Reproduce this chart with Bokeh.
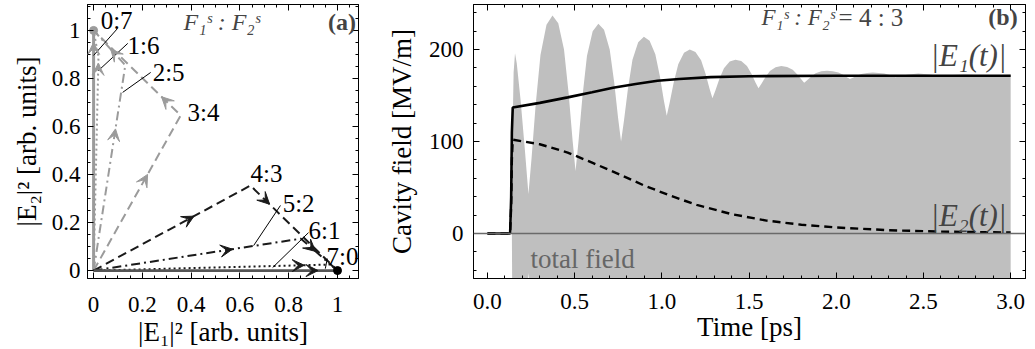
import numpy as np
from bokeh.plotting import figure
from bokeh.models import (Range1d, FixedTicker, LinearAxis, Label, Span, Arrow, VeeHead,
                          ColumnDataSource, CustomJSTickFormatter, PrintfTickFormatter)
from bokeh.layouts import row
from bokeh.embed import file_html
from bokeh.resources import INLINE

FONT = "Liberation Serif"

# ---------------- Panel (a) data ----------------
ratio_labels = ["0:7", "1:6", "2:5", "3:4", "4:3", "5:2", "6:1", "7:0"]
turn_x = [0.0, 0.02, 0.13, 0.357, 0.643, 0.85, 0.97, 1.0]
turn_y = [1.0, 0.89, 0.855, 0.646, 0.354, 0.133, 0.025, 0.0]
end_x = [0.0, 0.0, 0.0, 0.0, 1.0, 1.0, 1.0, 1.0]
end_y = [1.0, 1.0, 1.0, 1.0, 0.0, 0.0, 0.0, 0.0]

# arrowheads: (path index, leg index, fraction along leg)
arrow_path = [0, 1, 2, 2, 3, 3, 4, 4, 5, 5, 6, 7]
arrow_leg = [0, 0, 0, 1, 0, 1, 0, 1, 0, 1, 0, 0]
arrow_frac = [0.95, 0.97, 0.69, 0.46, 0.62, 0.22, 0.64, 0.22, 0.67, 0.40, 0.89, 0.92]

# ---------------- Panel (b) data ----------------
env_t = [0.140, 0.143, 0.150, 0.158, 0.168, 0.190, 0.215, 0.235,
         0.253, 0.2764, 0.304, 0.3385, 0.373,
         0.406, 0.439, 0.4654, 0.4878, 0.505,
         0.522, 0.5443, 0.5705, 0.6033, 0.636,
         0.6685, 0.701, 0.727, 0.7491, 0.766,
         0.783, 0.8053, 0.8315, 0.8643, 0.897,
         0.9298, 0.9625, 0.9887, 1.011, 1.028,
         1.045, 1.0676, 1.094, 1.127, 1.160,
         1.1925, 1.225, 1.251, 1.2731, 1.290,
         1.307, 1.3296, 1.356, 1.389, 1.422,
         1.455, 1.488, 1.5144, 1.5368, 1.554,
         1.571, 1.5933, 1.6195, 1.652, 1.685,
         1.718, 1.7505, 1.7767, 1.799, 1.816,
         1.833, 1.8553, 1.8815, 1.914, 1.947,
         1.980, 2.0125, 2.039, 2.061, 2.078,
         2.095, 2.1176, 2.144, 2.177, 2.210,
         2.275, 2.301, 2.340,
         2.405, 2.470, 2.535, 2.600, 2.668, 2.735, 2.800, 2.866, 2.930, 3.000]
env_v = [0, 100, 175, 196, 185, 145, 90, 43,
         82, 140, 194, 227, 237,
         228.5, 200, 152.5, 102, 68,
         100, 148, 193, 220, 228,
         221.6, 200, 164, 125.6, 100,
         123, 157, 189, 208, 214,
         209.7, 195, 171, 145, 128,
         142.4, 164, 184, 196.4, 200,
         197.4, 188.3, 173.5, 157.6, 147,
         155.4, 168, 179.8, 186.9, 189,
         187.5, 182.2, 173.5, 164.2, 158,
         162.8, 170, 176.7, 180.8, 182,
         181.1, 178, 173, 167.6, 164,
         166.6, 170.5, 174.1, 176.4, 177,
         176.5, 175, 172.5, 169.8, 168,
         169.4, 171.5, 173.5, 174.6, 175,
         173.9, 172.5, 170,
         172.5, 174, 173, 171, 172.3, 173, 172.2, 171.5, 172.1, 172.5]

e1_t = [0.0, 0.13, 0.136, 0.14, 0.145, 0.3, 0.46, 0.6, 0.72, 0.85, 0.975, 1.1, 1.28, 1.5, 2.0, 3.0]
e1_v = [0, 0, 40, 110, 137, 142, 148, 153.5, 158.5, 162.5, 166, 168, 170, 171, 171.5, 171.5]

e2_t = [0.0, 0.13, 0.136, 0.14, 0.145, 0.3, 0.46, 0.6, 0.76, 0.9, 1.05, 1.2, 1.4, 1.6, 1.8, 2.0, 2.3, 2.6, 3.0]
e2_v = [0, 0, 30, 80, 102, 97, 88, 77, 64, 52, 41, 31, 21, 14, 9.5, 6.5, 3.5, 2, 1]

GRAY = "#9b9b9b"
BLACK = "#1a1a1a"
TICK_SIZE = "23px"
AXLAB_SIZE = "27px"


def style_axis(ax, ticks, minor, size=TICK_SIZE):
    ax.ticker = FixedTicker(ticks=ticks, minor_ticks=minor)
    ax.major_tick_in = 6
    ax.major_tick_out = 0
    ax.minor_tick_in = 3
    ax.minor_tick_out = 0
    ax.axis_line_color = "black"
    ax.major_tick_line_color = "black"
    ax.minor_tick_line_color = "black"
    ax.major_label_text_font = FONT
    ax.major_label_text_font_size = size
    ax.major_label_text_color = "black"
    ax.axis_label_text_font = FONT
    ax.axis_label_text_font_size = AXLAB_SIZE
    ax.axis_label_text_font_style = "normal"
    ax.axis_label_text_color = "black"


def add_mirror(p, ticks_x, minor_x, ticks_y, minor_y):
    blank = CustomJSTickFormatter(code="return ''")
    ra = LinearAxis(formatter=blank)
    style_axis(ra, ticks_y, minor_y, size="0px")
    ra.major_label_standoff = 0
    p.add_layout(ra, "right")
    ta = LinearAxis(formatter=blank)
    style_axis(ta, ticks_x, minor_x, size="0px")
    ta.major_label_standoff = 0
    p.add_layout(ta, "above")


# ================= Panel (a) =================
pa = figure(width=380, height=349, output_backend="svg", toolbar_location=None,
            x_range=Range1d(-0.025, 1.086), y_range=Range1d(-0.033, 1.108),
            min_border_left=87, min_border_right=22, min_border_top=4, min_border_bottom=71)
pa.xgrid.visible = False
pa.ygrid.visible = False
pa.outline_line_color = "black"
pa.background_fill_color = "white"

a_ticks = [0, 0.2, 0.4, 0.6, 0.8, 1]
a_minor = [round(0.05 * i, 2) for i in range(-1, 23)]
fmt_a = CustomJSTickFormatter(code="return String(tick)")
style_axis(pa.xaxis[0], a_ticks, a_minor)
style_axis(pa.yaxis[0], a_ticks, a_minor)
pa.xaxis[0].formatter = fmt_a
pa.yaxis[0].formatter = fmt_a
pa.xaxis[0].axis_label = "|E\u2081|\u00b2 [arb. units]"
pa.yaxis[0].axis_label = "|E\u2082|\u00b2 [arb. units]"
pa.xaxis[0].major_label_standoff = 18
pa.xaxis[0].axis_label_standoff = 2
pa.yaxis[0].major_label_standoff = 7
pa.yaxis[0].axis_label_standoff = 7
add_mirror(pa, a_ticks, a_minor, a_ticks, a_minor)

styles = [
    dict(color=GRAY, dash="solid", width=3.0),
    dict(color=GRAY, dash="2 3", width=2.0),
    dict(color=GRAY, dash="9 4 2 4", width=2.0),
    dict(color=GRAY, dash="9 5", width=2.0),
    dict(color=BLACK, dash="9 5", width=2.0),
    dict(color=BLACK, dash="9 4 2 4", width=2.0),
    dict(color=BLACK, dash="2 3", width=2.0),
    dict(color="#555555", dash="solid", width=2.6),
]

for i in range(len(ratio_labels)):
    xs = [0.0, turn_x[i], end_x[i]]
    ys = [0.0, turn_y[i], end_y[i]]
    st = styles[i]
    pa.line(xs, ys, line_color=st["color"], line_width=st["width"], line_dash=st["dash"])

# arrowheads computed from path data
ax0 = {GRAY: [], BLACK: []}
for pi, leg, f in zip(arrow_path, arrow_leg, arrow_frac):
    if leg == 0:
        A = (0.0, 0.0)
        B = (turn_x[pi], turn_y[pi])
    else:
        A = (turn_x[pi], turn_y[pi])
        B = (end_x[pi], end_y[pi])
    dx, dy = B[0] - A[0], B[1] - A[1]
    L = (dx * dx + dy * dy) ** 0.5
    px, py = A[0] + f * dx, A[1] + f * dy
    sx, sy = px - 0.02 * dx / L, py - 0.02 * dy / L
    col = GRAY if pi < 4 else BLACK
    ax0[col].append((sx, sy, px, py))

for col, lst in ax0.items():
    src = ColumnDataSource(dict(x0=[a[0] for a in lst], y0=[a[1] for a in lst],
                                x1=[a[2] for a in lst], y1=[a[3] for a in lst]))
    pa.add_layout(Arrow(end=VeeHead(size=12, fill_color=col, line_color=col, line_width=1),
                        x_start="x0", y_start="y0", x_end="x1", y_end="y1",
                        source=src, line_alpha=0))

# end dots
pa.scatter([turn_x[0]], [turn_y[0]], size=8, color=GRAY)
pa.scatter([turn_x[7]], [turn_y[7]], size=8, color="black")

# ratio labels
lab_x = [0.029, 0.139, 0.242, 0.385, 0.643, 0.775, 0.881, 0.955]
lab_y = [1.04, 0.9375, 0.825, 0.658, 0.404, 0.279, 0.167, 0.058]
for t, x, y in zip(ratio_labels, lab_x, lab_y):
    pa.add_layout(Label(x=x, y=y, text=t, text_font=FONT, text_font_size="25px",
                        text_baseline="middle", text_align="left", text_color="black"))

# leader lines
ldr_x0 = [0.098, 0.140, 0.234, 0.766, 0.881, 0.958]
ldr_y0 = [1.008, 0.946, 0.825, 0.271, 0.158, 0.050]
ldr_x1 = [0.000, 0.020, 0.119, 0.656, 0.734, 0.950]
ldr_y1 = [0.896, 0.833, 0.742, 0.104, 0.0125, 0.008]
pa.segment(ldr_x0, ldr_y0, ldr_x1, ldr_y1, line_color="black", line_width=1)

pa.add_layout(Label(x=0.525, y=1.035, text="F\u2081\u02e2 : F\u2082\u02e2", text_font=FONT,
                    text_font_size="24px", text_font_style="italic", text_align="center",
                    text_baseline="middle"))
pa.add_layout(Label(x=1.076, y=1.035, text="(a)", text_font=FONT, text_font_size="24px",
                    text_font_style="bold", text_align="right", text_baseline="middle"))

# ================= Panel (b) =================
pb = figure(width=655, height=349, output_backend="svg", toolbar_location=None,
            x_range=Range1d(-0.08, 3.085), y_range=Range1d(-49, 249),
            min_border_left=93, min_border_right=10, min_border_top=4, min_border_bottom=71)
pb.xgrid.visible = False
pb.ygrid.visible = False
pb.outline_line_color = "black"

bx_ticks = [0, 0.5, 1.0, 1.5, 2.0, 2.5, 3.0]
bx_minor = [round(0.1 * i, 1) for i in range(0, 31)]
by_ticks = [0, 100, 200]
by_minor = [20 * i for i in range(-2, 13)]
style_axis(pb.xaxis[0], bx_ticks, bx_minor)
style_axis(pb.yaxis[0], by_ticks, by_minor)
pb.xaxis[0].formatter = PrintfTickFormatter(format="%.1f")
pb.yaxis[0].formatter = PrintfTickFormatter(format="%d")
pb.xaxis[0].axis_label = "Time [ps]"
pb.yaxis[0].axis_label = "Cavity field [MV/m]"
pb.xaxis[0].major_label_standoff = 15
pb.xaxis[0].axis_label_standoff = 0
pb.yaxis[0].major_label_standoff = 10
pb.yaxis[0].axis_label_standoff = 9
add_mirror(pb, bx_ticks, bx_minor, by_ticks, by_minor)

env = np.array(env_v, dtype=float)
pb.varea(x=env_t, y1=-env, y2=env, fill_color="#bfbfbf")
pb.add_layout(Span(location=0, dimension="width", line_color="#6a6a6a", line_width=1.5))
pb.line(e1_t, e1_v, line_color="black", line_width=2.6)
pb.line(e2_t, e2_v, line_color="black", line_width=2.4, line_dash="8 5")

pb.add_layout(Label(x=1.99, y=235, text="F\u2081\u02e2 : F\u2082\u02e2", text_font=FONT,
                    text_font_size="23px", text_font_style="italic", text_align="right",
                    text_baseline="middle"))
pb.add_layout(Label(x=2.013, y=235, text="= 4 : 3", text_font=FONT,
                    text_font_size="25px", text_align="left", text_baseline="middle"))
pb.add_layout(Label(x=3.04, y=235, text="(b)", text_font=FONT, text_font_size="24px",
                    text_font_style="bold", text_align="right", text_baseline="middle"))
pb.add_layout(Label(x=2.54, y=193, text="|E\u2081(t)|", text_font=FONT, text_font_size="31px",
                    text_font_style="italic", text_align="left", text_baseline="middle"))
pb.add_layout(Label(x=2.54, y=19, text="|E\u2082(t)|", text_font=FONT, text_font_size="31px",
                    text_font_style="italic", text_align="left", text_baseline="middle"))
pb.add_layout(Label(x=0.247, y=-28, text="total field", text_font=FONT, text_font_size="27px",
                    text_color="#666666", text_align="left", text_baseline="middle"))

layout = row(pa, pb)
open("out.html", "w").write(file_html(layout, INLINE))
